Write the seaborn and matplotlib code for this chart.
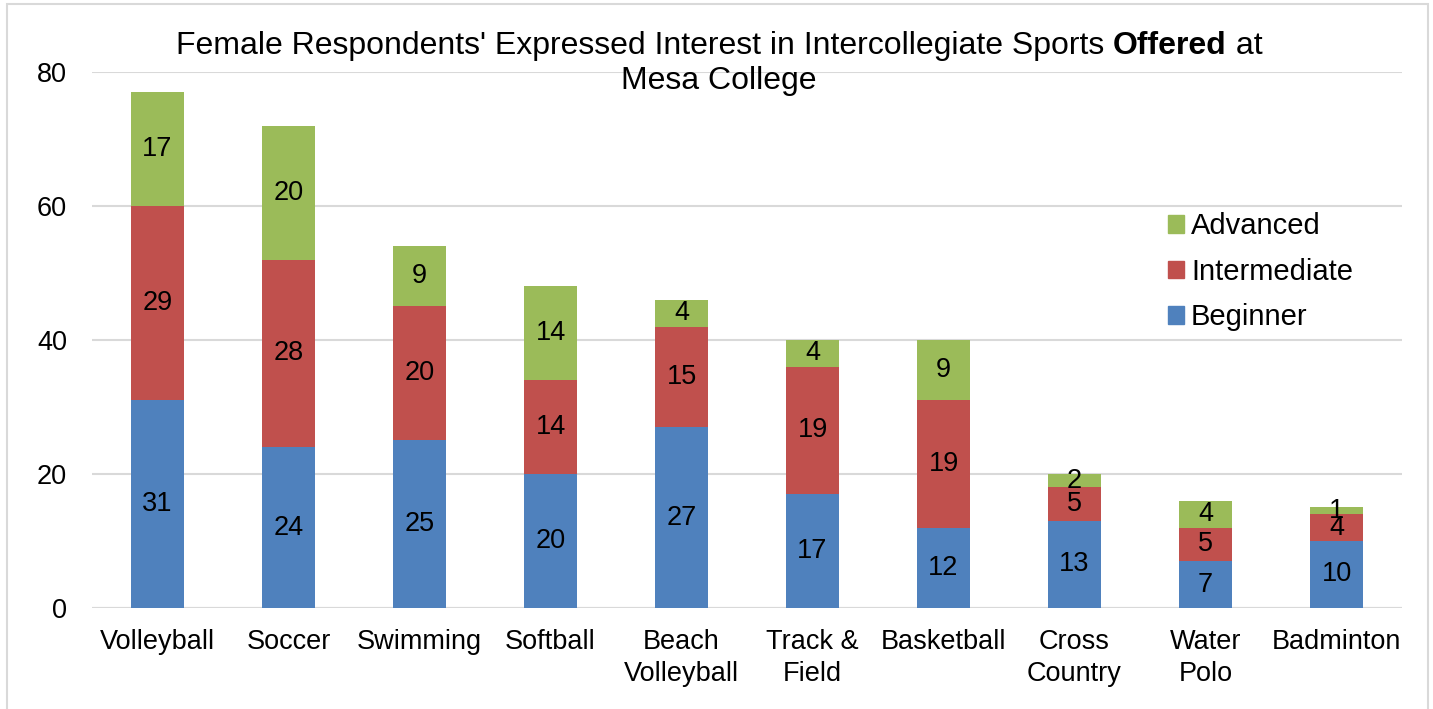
import matplotlib
matplotlib.use('Agg')
import matplotlib.pyplot as plt
import numpy as np
import pandas as pd
import seaborn as sns
from matplotlib.patches import Rectangle, Patch

# data
sports = ["Volleyball", "Soccer", "Swimming", "Softball", "Beach\nVolleyball",
          "Track &\nField", "Basketball", "Cross\nCountry", "Water\nPolo", "Badminton"]
beginner = [31, 24, 25, 20, 27, 17, 12, 13, 7, 10]
intermediate = [29, 28, 20, 14, 15, 19, 19, 5, 5, 4]
advanced = [17, 20, 9, 14, 4, 4, 9, 2, 4, 1]

levels = ["Beginner", "Intermediate", "Advanced"]
colors = {"Beginner": "#4F81BD", "Intermediate": "#C0504D", "Advanced": "#9BBB59"}

sns.set_style("white")
plt.rcParams['font.family'] = ['Liberation Sans', 'DejaVu Sans']
plt.rcParams['text.color'] = 'black'
plt.rcParams['xtick.color'] = 'black'
plt.rcParams['ytick.color'] = 'black'

df = pd.DataFrame({"sport": sports, "Beginner": beginner,
                   "Intermediate": intermediate, "Advanced": advanced})
df["top_int"] = df["Beginner"] + df["Intermediate"]
df["top_adv"] = df["top_int"] + df["Advanced"]

fig = plt.figure(figsize=(14.33, 7.09), dpi=100)
ax = fig.add_axes([0.0642, 0.1425, 0.9142, 0.7560])

# stacked bars drawn as overlapping cumulative totals
sns.barplot(data=df, x="sport", y="top_adv", color=colors["Advanced"], width=0.4,
            saturation=1, linewidth=0, ax=ax, zorder=2)
sns.barplot(data=df, x="sport", y="top_int", color=colors["Intermediate"], width=0.4,
            saturation=1, linewidth=0, ax=ax, zorder=3)
sns.barplot(data=df, x="sport", y="Beginner", color=colors["Beginner"], width=0.4,
            saturation=1, linewidth=0, ax=ax, zorder=4)

# segment labels in the middle of each piece
for i, row in df.iterrows():
    b, m, a = row["Beginner"], row["Intermediate"], row["Advanced"]
    ax.text(i, b / 2, str(b), ha="center", va="center", fontsize=19.5, zorder=5)
    ax.text(i, b + m / 2, str(m), ha="center", va="center", fontsize=19.5, zorder=5)
    ax.text(i, b + m + a / 2, str(a), ha="center", va="center", fontsize=19.5, zorder=5)

ax.set_ylim(0, 80)
ax.set_xlim(-0.5, len(sports) - 0.5)
ax.set_yticks([0, 20, 40, 60, 80])
ax.yaxis.grid(True, color="#D9D9D9", linewidth=1.5, zorder=0)
ax.set_axisbelow(True)
for s in ax.spines.values():
    s.set_visible(False)
ax.axhline(0, color="#D9D9D9", linewidth=1.5, zorder=1)
ax.tick_params(axis="y", length=0, pad=18, labelsize=19.5)
ax.tick_params(axis="x", length=0, pad=15, labelsize=19.5)
for lbl in ax.get_xticklabels():
    lbl.set_linespacing(1.3)
ax.set_xlabel("")
ax.set_ylabel("")

# legend (reversed order, no frame)
handles = [Patch(color=colors[l]) for l in levels[::-1]]
ax.legend(handles, levels[::-1], loc="center left", bbox_to_anchor=(0.821, 0.627),
          frameon=False, fontsize=21, handlelength=0.55, handleheight=0.55,
          handletextpad=0.25, labelspacing=0.6, borderpad=0, borderaxespad=0)

# title with one bold word
renderer = fig.canvas.get_renderer()
y1 = 1 - 46 / 709
parts = [("Female Respondents' Expressed Interest in Intercollegiate Sports ", "normal"),
         ("Offered", "bold"), (" at", "normal")]
texts = [fig.text(0, y1, t, fontsize=23, fontweight=w, va="center", ha="left") for t, w in parts]
widths = [t.get_window_extent(renderer).width for t in texts]
x = 719 - sum(widths) / 2
for t, w in zip(texts, widths):
    t.set_x(x / 1433)
    x += w
fig.text(719 / 1433, 1 - 81 / 709, "Mesa College", fontsize=23, ha="center", va="center")

# chart border
fig.patches.append(Rectangle((7 / 1433, -0.02), 1421 / 1433, 1.02 - 4 / 709,
                             transform=fig.transFigure, fill=False,
                             edgecolor="#D9D9D9", linewidth=1.5))

fig.savefig("out.png", dpi=100)
